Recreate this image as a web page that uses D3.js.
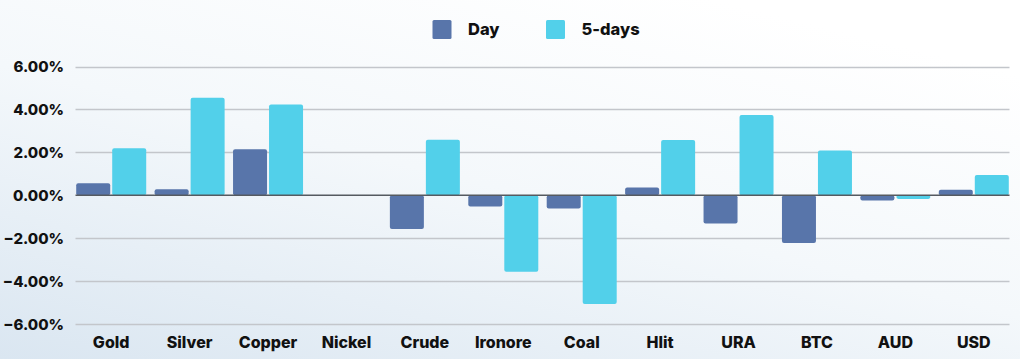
<!DOCTYPE html>
<html><head><meta charset="utf-8">
<script src="https://cdn.jsdelivr.net/npm/d3@7"></script>
<style>html,body{margin:0;padding:0;overflow:hidden;}svg{display:block;}</style>
</head><body>
<svg id="chart" width="1020" height="359"></svg>
<script>
const categories = ["Gold","Silver","Copper","Nickel","Crude","Ironore","Coal","Hlit","URA","BTC","AUD","USD"];
const seriesNames = ["Day","5-days"];
const dayValues = [0.56,0.28,2.14,0,-1.57,-0.53,-0.62,0.36,-1.32,-2.22,-0.25,0.26];
const fiveDayValues = [2.19,4.54,4.23,0,2.59,-3.57,-5.07,2.57,3.74,2.08,-0.17,0.94];
const yTicks = [6,4,2,0,-2,-4,-6];
const colors = ["#5875aa","#52d0ea"];

const W = 1020, H = 359;
const svg = d3.select("#chart");
const defs = svg.append("defs");
const grad = defs.append("linearGradient").attr("id","bg").attr("x1","0%").attr("y1","100%").attr("x2","70%").attr("y2","0%");
grad.append("stop").attr("offset","0%").attr("stop-color","#dae6f1");
grad.append("stop").attr("offset","55%").attr("stop-color","#f4f8fb");
grad.append("stop").attr("offset","100%").attr("stop-color","#ffffff");
svg.append("rect").attr("width",W).attr("height",H).attr("fill","url(#bg)");

const font = "Inter, 'Open Sans', sans-serif";
const y = d3.scaleLinear().domain([-6,6]).range([324,66.5]);
const x0 = d3.scaleBand().domain(categories).range([72,1013]).padding(0);
const bw = x0.bandwidth();
const x1 = d3.scaleBand().domain(seriesNames).range([(bw-70)/2,(bw+70)/2]).paddingInner(2/36).paddingOuter(0);

// gridlines
const gridL = 75.5, gridR = 1009.5;
svg.append("g").selectAll("line").data(yTicks.filter(d=>d!==0)).join("line")
  .attr("x1",gridL).attr("x2",gridR)
  .attr("y1",d=>Math.round(y(d))+0.5).attr("y2",d=>Math.round(y(d))+0.5)
  .attr("stroke","#c3c6cb").attr("stroke-width",1.3);

// y axis labels
const yAxis = d3.axisLeft(y).tickValues(yTicks).tickFormat(d=>d3.format(".2f")(d)+"%").tickSize(0).tickPadding(0);
const ya = svg.append("g").attr("transform","translate(64,0)").call(yAxis);
ya.select(".domain").remove();
ya.selectAll("text").attr("font-family",font).attr("font-weight",800).attr("font-size",15).attr("fill","#111").attr("dy","0.35em");

// bars
const data = categories.map((c,i)=>({cat:c, vals:[{s:"Day",v:dayValues[i]},{s:"5-days",v:fiveDayValues[i]}]}));
const groups = svg.append("g").selectAll("g").data(data).join("g")
  .attr("transform",d=>`translate(${x0(d.cat)},0)`);
groups.selectAll("rect").data(d=>d.vals.filter(e=>e.v!==0)).join("rect")
  .attr("x",e=>x1(e.s)).attr("width",x1.bandwidth())
  .attr("y",e=>y(Math.max(0,e.v))).attr("height",e=>Math.abs(y(e.v)-y(0)))
  .attr("rx",2).attr("fill",(e)=>colors[seriesNames.indexOf(e.s)]);

// zero line
svg.append("line").attr("x1",gridL).attr("x2",gridR).attr("y1",y(0)).attr("y2",y(0))
  .attr("stroke","#555a60").attr("stroke-width",1.3);

// x axis labels
const xAxis = d3.axisBottom(x0).tickSize(0).tickPadding(0);
const xa = svg.append("g").attr("transform","translate(0,348)").call(xAxis);
xa.select(".domain").remove();
xa.selectAll("text").attr("font-family",font).attr("font-weight",800).attr("font-size",16).attr("fill","#111").attr("dy","0");

// legend
const legendX = [432.5, 546];
const lg = svg.append("g").selectAll("g").data(seriesNames).join("g")
  .attr("transform",(d,i)=>`translate(${legendX[i]},20)`);
lg.append("rect").attr("width",19).attr("height",19).attr("rx",1.5).attr("fill",(d,i)=>colors[i]);
lg.append("text").attr("x",35.5).attr("y",14.5).text(d=>d)
  .attr("font-family",font).attr("font-weight",800).attr("font-size",16.5).attr("fill","#111");
</script>
</body></html>
